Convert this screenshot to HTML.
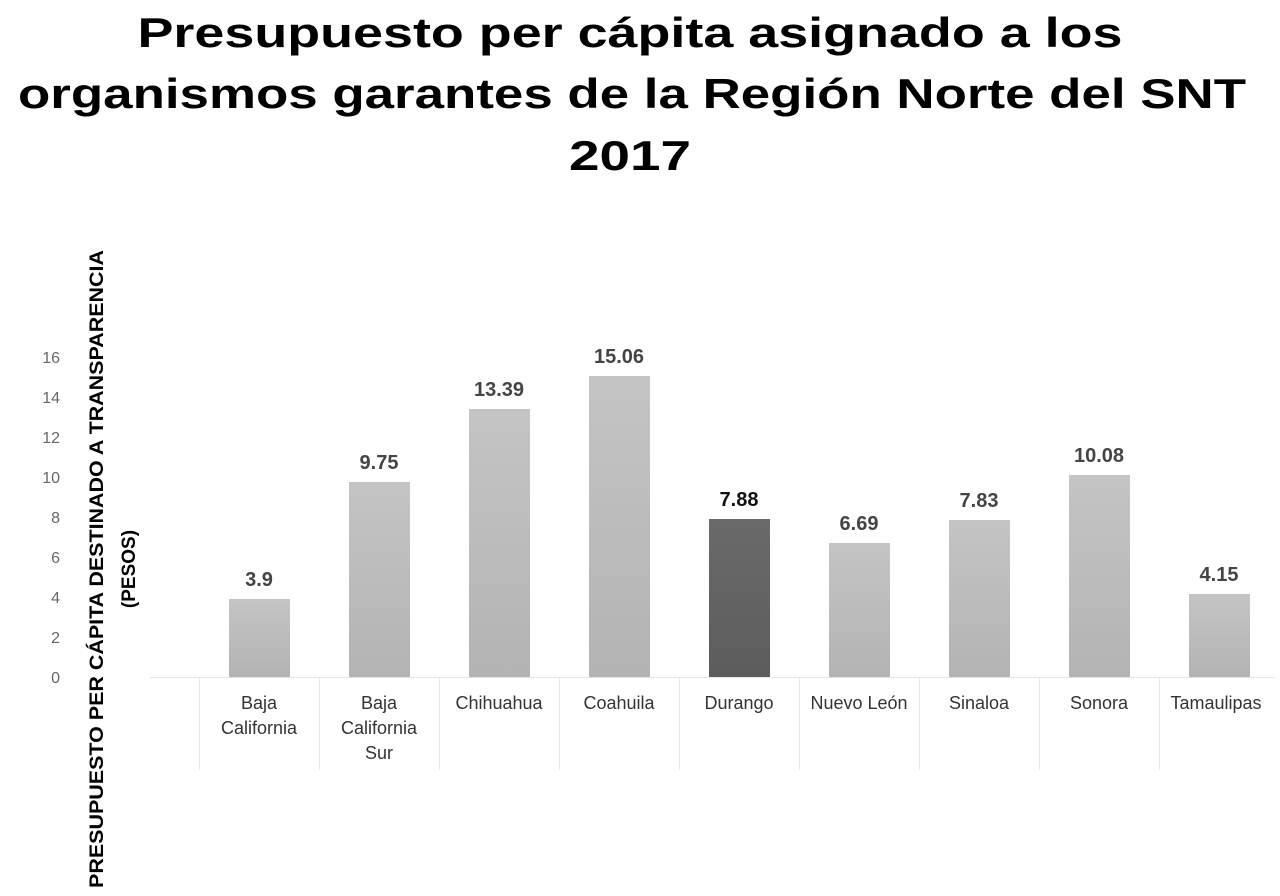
<!DOCTYPE html>
<html><head><meta charset="utf-8"><style>
html,body{margin:0;padding:0;background:#fff;}
svg{display:block;font-family:"Liberation Sans",sans-serif;}
</style></head><body>
<svg width="1280" height="896" viewBox="0 0 1280 896" xmlns="http://www.w3.org/2000/svg">
<defs>
<linearGradient id="g" x1="0" y1="0" x2="0" y2="1"><stop offset="0" stop-color="#c4c4c4"/><stop offset="1" stop-color="#b3b3b3"/></linearGradient>
<linearGradient id="d" x1="0" y1="0" x2="0" y2="1"><stop offset="0" stop-color="#6a6a6a"/><stop offset="1" stop-color="#5c5c5c"/></linearGradient>
</defs>
<g font-weight="bold" font-size="42" fill="#000" text-anchor="middle">
<text x="630" y="47" textLength="985" lengthAdjust="spacingAndGlyphs">Presupuesto per cápita asignado a los</text>
<text x="632" y="108" textLength="1228" lengthAdjust="spacingAndGlyphs">organismos garantes de la Región Norte del SNT</text>
<text x="630" y="170" textLength="122" lengthAdjust="spacingAndGlyphs">2017</text>
</g>
<g stroke="#e6e6e6" stroke-width="1">
<line x1="150" y1="677.5" x2="1275" y2="677.5"/>
<line x1="199.5" y1="677" x2="199.5" y2="770"/><line x1="319.5" y1="677" x2="319.5" y2="770"/><line x1="439.5" y1="677" x2="439.5" y2="770"/><line x1="559.5" y1="677" x2="559.5" y2="770"/><line x1="679.5" y1="677" x2="679.5" y2="770"/><line x1="799.5" y1="677" x2="799.5" y2="770"/><line x1="919.5" y1="677" x2="919.5" y2="770"/><line x1="1039.5" y1="677" x2="1039.5" y2="770"/><line x1="1159.5" y1="677" x2="1159.5" y2="770"/>
</g>
<g font-size="16" fill="#666" text-anchor="end">
<text x="60" y="683">0</text><text x="60" y="643">2</text><text x="60" y="603">4</text><text x="60" y="563">6</text><text x="60" y="523">8</text><text x="60" y="483">10</text><text x="60" y="443">12</text><text x="60" y="403">14</text><text x="60" y="363">16</text>
</g>
<g font-weight="bold" font-size="19" fill="#000" text-anchor="middle">
<text transform="translate(103,569) rotate(-90)" textLength="638" lengthAdjust="spacingAndGlyphs">PRESUPUESTO PER CÁPITA DESTINADO A TRANSPARENCIA</text>
<text transform="translate(135,569) rotate(-90)">(PESOS)</text>
</g>
<g>
<rect x="229" y="599" width="61" height="78" fill="url(#g)"/>
<rect x="349" y="482" width="61" height="195" fill="url(#g)"/>
<rect x="469" y="409" width="61" height="268" fill="url(#g)"/>
<rect x="589" y="376" width="61" height="301" fill="url(#g)"/>
<rect x="709" y="519" width="61" height="158" fill="url(#d)"/>
<rect x="829" y="543" width="61" height="134" fill="url(#g)"/>
<rect x="949" y="520" width="61" height="157" fill="url(#g)"/>
<rect x="1069" y="475" width="61" height="202" fill="url(#g)"/>
<rect x="1189" y="594" width="61" height="83" fill="url(#g)"/>
</g>
<g font-weight="bold" font-size="20" fill="#444" text-anchor="middle">
<text x="259" y="586">3.9</text>
<text x="379" y="469">9.75</text>
<text x="499" y="396">13.39</text>
<text x="619" y="363">15.06</text>
<text x="739" y="506" fill="#111">7.88</text>
<text x="859" y="530">6.69</text>
<text x="979" y="507">7.83</text>
<text x="1099" y="462">10.08</text>
<text x="1219" y="581">4.15</text>
</g>
<g font-size="18" fill="#333" text-anchor="middle">
<text x="259" y="709">Baja</text><text x="259" y="734">California</text>
<text x="379" y="709">Baja</text><text x="379" y="734">California</text><text x="379" y="759">Sur</text>
<text x="499" y="709">Chihuahua</text>
<text x="619" y="709">Coahuila</text>
<text x="739" y="709">Durango</text>
<text x="859" y="709">Nuevo León</text>
<text x="979" y="709">Sinaloa</text>
<text x="1099" y="709">Sonora</text>
<text x="1216" y="709">Tamaulipas</text>
</g>
</svg>
</body></html>
